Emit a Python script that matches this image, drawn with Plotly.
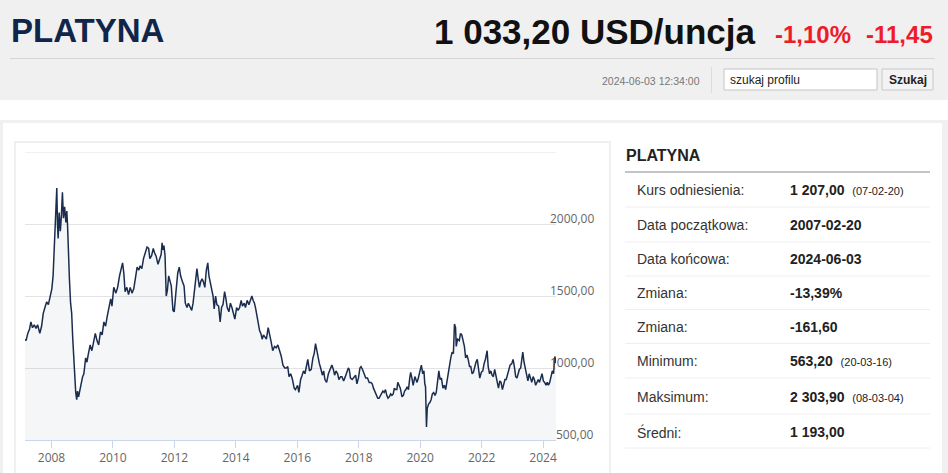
import plotly.graph_objects as go

# ---------------- data ----------------
dates = [
"2007-02-20","2007-03-05","2007-03-25","2007-04-15","2007-05-01","2007-05-20","2007-06-10","2007-07-01","2007-07-20","2007-08-15",
"2007-09-05","2007-09-25","2007-10-15","2007-11-05","2007-11-25","2007-12-15","2008-01-05","2008-01-20","2008-02-01","2008-02-15",
"2008-02-25","2008-03-04","2008-03-12","2008-03-20","2008-04-01","2008-04-15","2008-04-28","2008-05-10","2008-05-22","2008-06-05",
"2008-06-20","2008-07-01","2008-07-10","2008-07-20","2008-08-01","2008-08-15","2008-08-28","2008-09-10","2008-09-22","2008-10-05",
"2008-10-15","2008-10-27","2008-11-05","2008-11-18","2008-12-01","2008-12-15","2009-01-05","2009-01-20","2009-02-10","2009-02-25",
"2009-03-15","2009-04-05","2009-04-25","2009-05-15","2009-06-05","2009-06-25","2009-07-15","2009-08-05","2009-08-25","2009-09-15",
"2009-10-05","2009-10-25","2009-11-15","2009-12-05","2009-12-20","2010-01-10","2010-02-05","2010-02-25","2010-03-20","2010-04-10",
"2010-04-25","2010-05-10","2010-05-25","2010-06-15","2010-07-05","2010-07-25","2010-08-15","2010-09-05","2010-09-25","2010-10-15",
"2010-11-05","2010-11-20","2010-12-10","2010-12-30","2011-01-20","2011-02-10","2011-03-01","2011-03-15","2011-04-05","2011-04-25",
"2011-05-10","2011-05-30","2011-06-20","2011-07-10","2011-07-28","2011-08-08","2011-08-18","2011-08-30","2011-09-12","2011-09-26",
"2011-10-10","2011-10-25","2011-11-10","2011-11-25","2011-12-15","2011-12-30","2012-01-20","2012-02-10","2012-02-28","2012-03-15",
"2012-04-05","2012-04-25","2012-05-10","2012-05-30","2012-06-15","2012-07-05","2012-07-25","2012-08-10","2012-08-25","2012-09-10",
"2012-09-25","2012-10-10","2012-10-25","2012-11-10","2012-11-25","2012-12-10","2012-12-28","2013-01-15","2013-02-01","2013-02-15",
"2013-03-05","2013-03-20","2013-04-05","2013-04-18","2013-05-05","2013-05-20","2013-06-10","2013-06-28","2013-07-15","2013-08-01",
"2013-08-20","2013-09-05","2013-09-20","2013-10-10","2013-10-28","2013-11-15","2013-12-05","2013-12-20","2014-01-10","2014-01-28",
"2014-02-15","2014-03-05","2014-03-20","2014-04-10","2014-04-25","2014-05-15","2014-06-05","2014-06-25","2014-07-10","2014-07-25",
"2014-08-10","2014-08-25","2014-09-10","2014-09-25","2014-10-10","2014-10-25","2014-11-10","2014-11-25","2014-12-10","2014-12-30",
"2015-01-20","2015-02-05","2015-02-25","2015-03-15","2015-04-05","2015-04-25","2015-05-15","2015-06-05","2015-06-25","2015-07-15",
"2015-08-05","2015-08-25","2015-09-10","2015-09-25","2015-10-15","2015-11-05","2015-11-25","2015-12-10","2016-01-05","2016-01-20",
"2016-02-10","2016-02-28","2016-03-15","2016-04-01","2016-04-20","2016-05-05","2016-05-25","2016-06-15","2016-07-05","2016-07-20",
"2016-08-05","2016-08-20","2016-09-05","2016-09-20","2016-10-05","2016-10-25","2016-11-10","2016-11-25","2016-12-15","2017-01-05",
"2017-01-25","2017-02-15","2017-03-05","2017-03-20","2017-04-05","2017-04-25","2017-05-10","2017-05-30","2017-06-15","2017-07-05",
"2017-07-25","2017-08-10","2017-08-30","2017-09-10","2017-09-25","2017-10-15","2017-11-05","2017-11-25","2017-12-10","2017-12-28",
"2018-01-15","2018-01-28","2018-02-15","2018-03-05","2018-03-25","2018-04-15","2018-05-05","2018-05-25","2018-06-10","2018-06-25",
"2018-07-10","2018-07-28","2018-08-15","2018-08-30","2018-09-15","2018-09-30","2018-10-15","2018-10-30","2018-11-15","2018-11-30",
"2018-12-15","2018-12-30","2019-01-15","2019-01-30","2019-02-15","2019-02-28","2019-03-15","2019-03-30","2019-04-10","2019-04-25",
"2019-05-10","2019-05-30","2019-06-15","2019-06-30","2019-07-15","2019-07-30","2019-08-15","2019-08-30","2019-09-10","2019-09-25",
"2019-10-10","2019-10-30","2019-11-10","2019-11-25","2019-12-10","2019-12-28","2020-01-15","2020-02-01","2020-02-15","2020-02-25",
"2020-03-05","2020-03-16","2020-03-25","2020-04-10","2020-04-25","2020-05-10","2020-05-25","2020-06-10","2020-06-25","2020-07-10",
"2020-07-28","2020-08-10","2020-08-25","2020-09-10","2020-09-28","2020-10-15","2020-10-30","2020-11-15","2020-11-30","2020-12-15",
"2020-12-30","2021-01-15","2021-01-30","2021-02-12","2021-02-25","2021-03-05","2021-03-20","2021-04-10","2021-04-25","2021-05-10",
"2021-05-25","2021-06-10","2021-06-25","2021-07-10","2021-07-25","2021-08-10","2021-08-25","2021-09-10","2021-09-25","2021-10-10",
"2021-10-25","2021-11-10","2021-11-25","2021-12-10","2021-12-28","2022-01-15","2022-01-30","2022-02-15","2022-03-07","2022-03-20",
"2022-04-05","2022-04-20","2022-05-05","2022-05-20","2022-06-05","2022-06-20","2022-07-05","2022-07-20","2022-08-05","2022-08-20",
"2022-09-05","2022-09-20","2022-10-05","2022-10-20","2022-11-05","2022-11-20","2022-12-05","2022-12-25","2023-01-10","2023-01-25",
"2023-02-10","2023-02-25","2023-03-10","2023-03-25","2023-04-10","2023-04-25","2023-05-05","2023-05-20","2023-06-05","2023-06-20",
"2023-07-05","2023-07-20","2023-08-05","2023-08-20","2023-09-05","2023-09-20","2023-10-05","2023-10-20","2023-11-05","2023-11-20",
"2023-12-05","2023-12-20","2024-01-05","2024-01-20","2024-02-05","2024-02-20","2024-03-05","2024-03-20","2024-04-05","2024-04-20",
"2024-05-05","2024-05-20","2024-05-28","2024-06-03",
]

prices = [
1200,1190,1240,1270,1320,1280,1300,1275,1300,1240,
1290,1380,1420,1460,1440,1500,1550,1640,1780,1980,
2150,2250,2000,1900,2080,1950,2060,2220,2040,2120,
2010,2090,1990,1760,1620,1450,1380,1200,1060,920,
830,780,840,800,830,880,940,960,1070,1040,
1100,1160,1120,1180,1240,1190,1160,1250,1230,1320,
1290,1360,1430,1480,1430,1560,1520,1560,1640,1700,
1730,1660,1530,1560,1510,1560,1520,1550,1640,1700,
1680,1710,1690,1760,1800,1840,1830,1760,1780,1830,
1800,1775,1720,1760,1790,1870,1820,1850,1780,1500,
1540,1640,1600,1570,1400,1390,1530,1660,1700,1640,
1600,1570,1450,1420,1450,1430,1400,1450,1530,1640,
1690,1620,1560,1600,1620,1600,1560,1680,1730,1640,
1580,1560,1500,1410,1500,1440,1430,1320,1420,1440,
1530,1480,1420,1390,1450,1420,1360,1340,1420,1400,
1420,1470,1430,1450,1420,1470,1440,1480,1500,1470,
1450,1410,1360,1290,1260,1240,1200,1230,1220,1200,
1280,1240,1180,1120,1150,1140,1160,1120,1080,1020,
1000,1000,1010,940,960,920,860,850,880,830,
920,950,980,960,1010,1060,980,990,1070,1100,
1170,1120,1060,1030,1000,950,980,920,900,960,
990,1020,990,950,980,960,920,940,940,910,
940,970,1000,990,930,920,940,950,890,930,
1000,1010,990,960,930,930,900,900,890,860,
840,820,790,790,810,830,840,830,850,810,
790,800,820,810,820,860,850,850,900,880,
860,800,810,840,850,870,850,930,970,930,
880,940,920,900,930,980,1020,960,980,890,
870,590,720,750,760,780,820,830,810,830,
930,980,920,930,860,880,850,910,970,1040,
1070,1110,1100,1305,1280,1150,1200,1190,1240,1230,
1180,1150,1070,1090,1060,1010,1010,960,970,1010,
1040,1060,990,930,970,980,1030,1060,1120,1010,
960,980,950,940,990,940,880,860,910,900,
850,900,920,920,960,1000,1020,1030,1060,1010,
940,930,970,990,1000,1070,1110,1040,1000,960,
910,960,920,900,940,920,880,900,920,900,
940,960,910,900,880,900,880,900,940,980,
960,1080,1060,1033.2,
]
assert len(dates) == len(prices)

y_ticks = [500, 1000, 1500, 2000, 2500]
y_ticktext = ["500,00", "1000,00", "1500,00", "2000,00", ""]
x_start, x_end = "2007-02-20", "2024-06-03"

title = "PLATYNA"
price_text = "1 033,20 USD/uncja"
change_pct = "-1,10%"
change_abs = "-11,45"
timestamp = "2024-06-03 12:34:00"
search_placeholder = "szukaj profilu"
search_button = "Szukaj"

table_title = "PLATYNA"
table_labels = ["Kurs odniesienia:", "Data początkowa:", "Data końcowa:", "Zmiana:",
                "Zmiana:", "Minimum:", "Maksimum:", "Średni:"]
table_values = ["1 207,00", "2007-02-20", "2024-06-03", "-13,39%",
                "-161,60", "563,20", "2 303,90", "1 193,00"]
table_dates = ["(07-02-20)", "", "", "", "", "(20-03-16)", "(08-03-04)", ""]

# ---------------- layout helpers ----------------
W, H = 948, 473
def PX(x): return x / W
def PY(y): return 1 - y / H

GRAY = "#f0f0f0"
GRID = "#e3e3e3"
ARIAL = "Liberation Sans, Arial, sans-serif"
AXF = "Open Sans, DejaVu Sans, sans-serif"

fig = go.Figure()
fig.add_trace(go.Scatter(
    x=dates, y=prices, mode="lines",
    line=dict(color="#1b2d4e", width=1.5),
    fill="tozeroy", fillcolor="rgba(27,45,78,0.045)",
    hoverinfo="x+y", showlegend=False,
))

shapes = []
def rect(x0, y0, x1, y1, fill, line=None, lw=0):
    shapes.append(dict(type="rect", xref="paper", yref="paper",
                       x0=PX(x0), x1=PX(x1), y0=PY(y1), y1=PY(y0),
                       fillcolor=fill, line=dict(color=line or fill, width=lw),
                       layer="below"))
def hline(x0, x1, y, color, w=1):
    shapes.append(dict(type="line", xref="paper", yref="paper",
                       x0=PX(x0), x1=PX(x1), y0=PY(y), y1=PY(y),
                       line=dict(color=color, width=w), layer="below"))
def vline(x, y0, y1, color, w=1):
    shapes.append(dict(type="line", xref="paper", yref="paper",
                       x0=PX(x), x1=PX(x), y0=PY(y0), y1=PY(y1),
                       line=dict(color=color, width=w), layer="below"))

# page chrome
rect(0, 0, 948, 100, GRAY)
rect(0, 120, 948, 123, GRAY)
rect(0, 123, 3, 473, GRAY)
rect(942, 123, 948, 473, GRAY)
hline(10, 935, 58.5, "#d6d6d6")
vline(711.5, 67, 93, "#dcdcdc")
rect(724, 69, 877, 90, "#ffffff", "#c4c4c4", 1)
rect(882, 69, 933, 90, "#f3f3f3", "#c8c8c8", 1)
# chart box
rect(15, 142, 610, 490, "#ffffff", "#efefef", 2)
# top gridline of the value axis (plotly drops the one at the range edge)
shapes.append(dict(type="line", xref="x domain", yref="y", x0=0, x1=1,
                   y0=y_ticks[-1], y1=y_ticks[-1],
                   line=dict(color=GRID, width=1), layer="below"))
# table lines
hline(625, 930, 172, "#c4c4c4", 2)
for yy in [207, 242, 276, 309.5, 343.5, 378, 414, 448]:
    hline(625, 930, yy, "#eeeeee", 1)

ann = []
def text(x, y, s, size, color, bold=False, anchor="left", family=ARIAL):
    ann.append(dict(xref="paper", yref="paper", x=PX(x), y=PY(y),
                    text=f"<b>{s}</b>" if bold else s, showarrow=False,
                    xanchor=anchor, yanchor="middle",
                    font=dict(size=size, color=color, family=family)))

text(9, 31, title, 33, "#0f2549", bold=True)
text(758, 32, price_text, 35, "#111111", bold=True, anchor="right")
text(773, 35, change_pct, 24, "#ee1c2b", bold=True)
text(864, 35, change_abs, 24, "#ee1c2b", bold=True)
text(702, 80.5, timestamp, 10.5, "#777777", anchor="right")
text(728, 80, search_placeholder, 12, "#222222")
text(907.5, 80, search_button, 12, "#222222", bold=True, anchor="center")

text(624, 156, table_title, 16, "#222222", bold=True)
row_y = [190, 225, 258.5, 293, 327, 361, 397, 432]
for lab, val, dt, yy in zip(table_labels, table_values, table_dates, row_y):
    text(635, yy, lab, 14, "#333333")
    s = f"<b>{val}</b>"
    if dt:
        s += f"&nbsp;&nbsp;<span style='font-size:11px'>{dt}</span>"
    text(788, yy, s, 14, "#222222")

# y-axis value labels (right-aligned, sitting just above their gridlines)
for tv, tt in zip(y_ticks, y_ticktext):
    if tt:
        ann.append(dict(xref="paper", yref="y", x=PX(596), y=tv, text=tt,
                        showarrow=False, xanchor="right", yanchor="middle",
                        yshift=6, font=dict(family=AXF, size=12, color="#666666")))

fig.update_layout(
    width=W, height=H, autosize=False,
    margin=dict(l=0, r=0, t=0, b=0, pad=0),
    paper_bgcolor="#ffffff", plot_bgcolor="rgba(0,0,0,0)",
    shapes=shapes, annotations=ann, showlegend=False,
    xaxis=dict(
        domain=[PX(25), PX(556)], type="date", range=[x_start, x_end],
        tick0="2008-01-01", dtick="M24", tickformat="%Y",
        ticks="outside", ticklen=7, tickcolor="#ccd6eb", tickwidth=1,
        showline=True, linecolor="#ccd6eb", linewidth=1,
        showgrid=False, zeroline=False,
        tickfont=dict(family=AXF, size=12, color="#666666"),
        fixedrange=True,
    ),
    yaxis=dict(
        domain=[PY(440), PY(152)], range=[500, 2500],
        tickvals=y_ticks, showticklabels=False, ticks="",
        showgrid=True, gridcolor=GRID, gridwidth=1,
        zeroline=False, showline=False, fixedrange=True,
    ),
)

fig.write_html("out.html", config={"displayModeBar": False},
               post_script="document.body.style.margin='0';document.body.style.overflow='hidden';")
